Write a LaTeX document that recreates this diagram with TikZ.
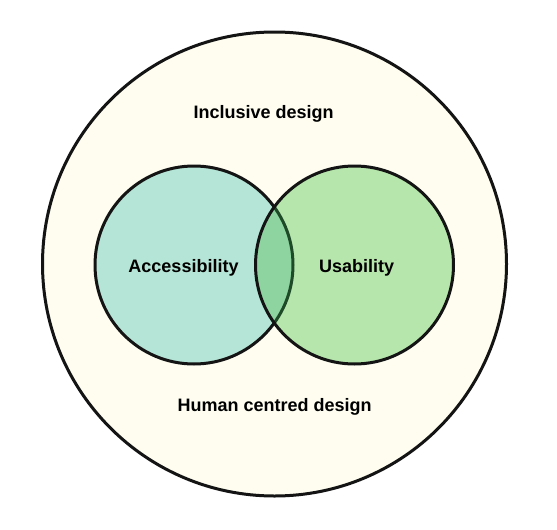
\documentclass[tikz,border=0pt]{standalone}
\usepackage{fontspec}
\setmainfont{Liberation Sans}
\definecolor{creamfill}{HTML}{FEFDF0}
\definecolor{accfill}{HTML}{B4E5D6}
\definecolor{usefill}{HTML}{B6E6AB}
\definecolor{lensfill}{HTML}{8DD4A0}
\definecolor{ringline}{HTML}{141414}
\definecolor{lensline}{HTML}{1F4A27}
\tikzset{
  ring/.style={circle,inner sep=0pt,line width=3pt,draw=ringline},
  lbl/.style={anchor=base,inner sep=0pt,font=\fontsize{18.0}{21.6}\selectfont\bfseries}
}

\begin{document}
\begin{tikzpicture}[x=1pt,y=-1pt]
\path[use as bounding box,fill=white] (0,0) rectangle (557.0,530.0);
\node[ring,fill=creamfill,minimum size=464pt] (hcd) at (274.5,264) {};
\node[ring,fill=accfill,minimum size=198pt] (acc) at (194,265) {};
\node[ring,fill=usefill,draw=none,minimum size=198pt] (use) at (354.5,265) {};
\begin{scope}
\clip (194,265) circle (99);
\fill[lensfill] (354.5,265) circle (99);
\end{scope}
\begin{scope}
\clip (354.5,265) circle (99);
\draw[line width=3pt,lensline] (194,265) circle (99);
\end{scope}
\draw[line width=3pt,ringline] (354.5,265) circle (99);
\node[lbl] (inclusive) at (263.7,118.3) {Inclusive design};
\node[lbl] (access) at (183.5,272.5) {Accessibility};
\node[lbl] (usab) at (356.7,272.3) {Usability};
\node[lbl] (human) at (274.7,411.7) {Human centred design};
\end{tikzpicture}
\end{document}
